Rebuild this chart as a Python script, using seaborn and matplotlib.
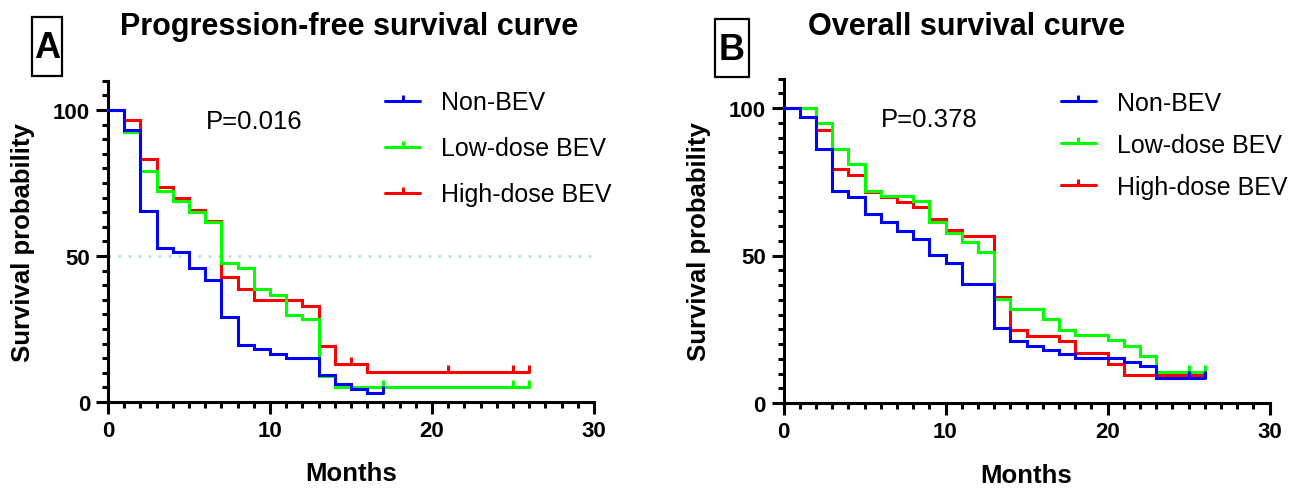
import numpy as np
import pandas as pd
import matplotlib
matplotlib.use("Agg")
import matplotlib.pyplot as plt
import seaborn as sns
from matplotlib.path import Path
from matplotlib.lines import Line2D
from matplotlib.patches import Rectangle

# ---------------- data ----------------
groups = ["Non-BEV", "Low-dose BEV", "High-dose BEV"]
colors = {"Non-BEV": "#0000FF", "Low-dose BEV": "#00FF00", "High-dose BEV": "#FF0000"}

# Progression-free survival (step times, survival %)
pfs_non_t = [0, 1, 2, 3, 4, 5, 6, 7, 8, 9, 10, 11, 13, 14, 15, 16, 17]
pfs_non_s = [100, 93.2, 65.3, 52.6, 51.5, 45.9, 41.8, 29.2, 19.5, 18.2, 16.5, 15.2, 9.2, 6.2, 4.5, 3.2, 3.2]
pfs_non_c = [17]

pfs_low_t = [0, 1, 2, 3, 4, 5, 6, 7, 8, 9, 10, 11, 12, 13, 14, 26]
pfs_low_s = [100, 92.6, 79.2, 72.1, 68.7, 65.0, 61.5, 47.5, 45.8, 38.7, 36.6, 29.8, 28.4, 8.9, 5.0, 5.0]
pfs_low_c = [17, 25, 26]

pfs_high_t = [0, 1, 2, 3, 4, 5, 6, 7, 8, 9, 12, 13, 14, 16, 26]
pfs_high_s = [100, 96.6, 83.2, 73.5, 69.9, 65.9, 62.0, 42.7, 38.7, 34.9, 33.0, 19.3, 12.9, 10.2, 10.2]
pfs_high_c = [15, 21, 25, 26]

# Overall survival
os_non_t = [0, 1, 2, 3, 4, 5, 6, 7, 8, 9, 10, 11, 13, 14, 15, 16, 17, 18, 21, 22, 23, 26]
os_non_s = [100, 97.1, 86.1, 72.0, 69.7, 64.1, 61.2, 58.4, 55.6, 50.2, 47.4, 40.3, 25.3, 20.9, 19.4, 18.1, 16.6, 15.3, 14.0, 12.7, 8.5, 8.5]
os_non_c = [25, 26]

os_low_t = [0, 2, 3, 4, 5, 6, 8, 9, 10, 11, 12, 13, 14, 16, 17, 18, 20, 21, 22, 23, 26]
os_low_s = [100, 94.9, 86.1, 81.0, 72.0, 70.3, 68.6, 61.5, 57.6, 54.5, 51.1, 35.3, 31.9, 28.5, 24.9, 23.1, 21.4, 19.4, 16.0, 10.6, 10.6]
os_low_c = [25, 26]

os_high_t = [0, 2, 3, 4, 5, 6, 7, 8, 9, 10, 11, 13, 14, 15, 17, 18, 20, 21, 26]
os_high_s = [100, 92.5, 79.3, 77.3, 71.4, 69.7, 68.0, 66.3, 62.4, 58.6, 56.7, 35.8, 24.7, 22.8, 20.9, 16.9, 13.2, 9.6, 9.6]
os_high_c = [25, 26]

x_ticks = [0, 10, 20, 30]
y_ticks = [0, 50, 100]
p_values = ["P=0.016", "P=0.378"]
titles = ["Progression-free survival curve", "Overall survival curve"]
panel_letters = ["A", "B"]

# ---------------- style ----------------
sns.set_style("white")
plt.rcParams["font.family"] = ["Liberation Sans", "DejaVu Sans"]
for key in ["text.color", "axes.labelcolor", "xtick.color", "ytick.color", "axes.edgecolor"]:
    plt.rcParams[key] = "black"

LW = 2.2
tick_marker = Path([(0, 0), (0, 1)], [Path.MOVETO, Path.LINETO])


def km_frame(curves):
    rows = []
    for g, (t, s) in curves.items():
        for ti, si in zip(t, s):
            rows.append({"Months": ti, "Survival": si, "group": g})
    return pd.DataFrame(rows)


def value_at(t, s, x):
    v = s[0]
    for ti, si in zip(t, s):
        if ti <= x:
            v = si
    return v


fig = plt.figure(figsize=(13.10, 4.89), dpi=100)
ax_a = fig.add_axes([108 / 1310, 86 / 489, 486 / 1310, 321.2 / 489])
ax_b = fig.add_axes([783.5 / 1310, 85 / 489, 486 / 1310, 324.5 / 489])

panels = [
    (ax_a, {"Non-BEV": (pfs_non_t, pfs_non_s), "Low-dose BEV": (pfs_low_t, pfs_low_s),
            "High-dose BEV": (pfs_high_t, pfs_high_s)},
     {"Non-BEV": pfs_non_c, "Low-dose BEV": pfs_low_c, "High-dose BEV": pfs_high_c}),
    (ax_b, {"Non-BEV": (os_non_t, os_non_s), "Low-dose BEV": (os_low_t, os_low_s),
            "High-dose BEV": (os_high_t, os_high_s)},
     {"Non-BEV": os_non_c, "Low-dose BEV": os_low_c, "High-dose BEV": os_high_c}),
]

draw_order = ["High-dose BEV", "Low-dose BEV", "Non-BEV"]

for i, (ax, curves, cens) in enumerate(panels):
    df = km_frame(curves)
    if i == 0:
        ax.axhline(50, xmin=0, xmax=1, color="#B0E6DE", lw=2.0, ls=(0, (1, 2.6)), zorder=1)
    sns.lineplot(data=df, x="Months", y="Survival", hue="group", hue_order=draw_order,
                 palette=colors, estimator=None, sort=False, drawstyle="steps-post",
                 linewidth=LW, legend=False, ax=ax, zorder=3)
    for ln in ax.get_lines():
        ln.set_clip_on(False)
        ln.set_solid_joinstyle("miter")
    for z, g in enumerate(draw_order):
        t, s = curves[g]
        cx = cens[g]
        cy = [value_at(t, s, c) for c in cx]
        ax.plot(cx, cy, ls="none", marker=tick_marker, ms=10.5, mew=LW, color=colors[g],
                clip_on=False, zorder=3 + z * 0.1)

    ax.set_xlim(0, 30)
    ax.set_ylim(0, 110)
    ax.set_xticks(x_ticks)
    ax.set_xticks(np.arange(0, 31, 1), minor=True)
    ax.set_yticks(y_ticks)
    ax.set_yticks(np.arange(0, 111, 5), minor=True)
    for side in ["top", "right"]:
        ax.spines[side].set_visible(False)
    for side in ["left", "bottom"]:
        ax.spines[side].set_linewidth(LW)
        ax.spines[side].set_color("black")
    ax.tick_params(which="major", direction="out", length=8.8, width=LW, color="black",
                   labelcolor="black", labelsize=16, pad=4, left=True, bottom=True)
    ax.tick_params(which="minor", direction="out", length=4.3, width=LW, color="black",
                   left=True, bottom=True)
    for lab in ax.get_xticklabels() + ax.get_yticklabels():
        lab.set_fontweight("bold")
    ax.set_xlabel("Months", fontsize=18.5, fontweight="bold", color="black")
    ax.set_ylabel("Survival probability", fontsize=18.5, fontweight="bold", color="black")
    ax.xaxis.set_label_coords(0.5, -0.185)
    ax.yaxis.set_label_coords(-0.15, 0.5)
    ax.patch.set_alpha(0)

    ax.text(9.0, 96.2, p_values[i], fontsize=18.5, ha="center", va="center", color="black")

    handles = [Line2D([0], [0], color=colors[g], lw=LW, marker=tick_marker, ms=8.5, mew=LW)
               for g in groups]
    leg = ax.legend(handles, groups, loc="upper left",
                    bbox_to_anchor=(0.570, 0.970 if i == 0 else 0.963),
                    frameon=False, fontsize=18, handlelength=1.4, handletextpad=0.85,
                    labelspacing=0.88 if i == 0 else 0.72, borderpad=0, borderaxespad=0,
                    numpoints=1)
    for txt in leg.get_texts():
        txt.set_color("black")

# titles
fig.text(349 / 1310, 1 - 27 / 489, titles[0], fontsize=22, fontweight="bold",
         ha="center", va="center", color="black")
fig.text(967 / 1310, 1 - 27 / 489, titles[1], fontsize=22, fontweight="bold",
         ha="center", va="center", color="black")

# panel letters with boxes
for (x0, y0, w, h), letter in zip([(32, 18, 30, 59), (715, 20, 34, 58)], panel_letters):
    fig.patches.append(Rectangle((x0 / 1310, 1 - (y0 + h) / 489), w / 1310, h / 489,
                                 transform=fig.transFigure, fill=False, ec="black", lw=1.6))
    fig.text((x0 + w / 2) / 1310, 1 - (y0 + h / 2 + 1) / 489, letter, fontsize=26,
             fontweight="bold", ha="center", va="center", color="black")

fig.savefig("out.png", dpi=100)
